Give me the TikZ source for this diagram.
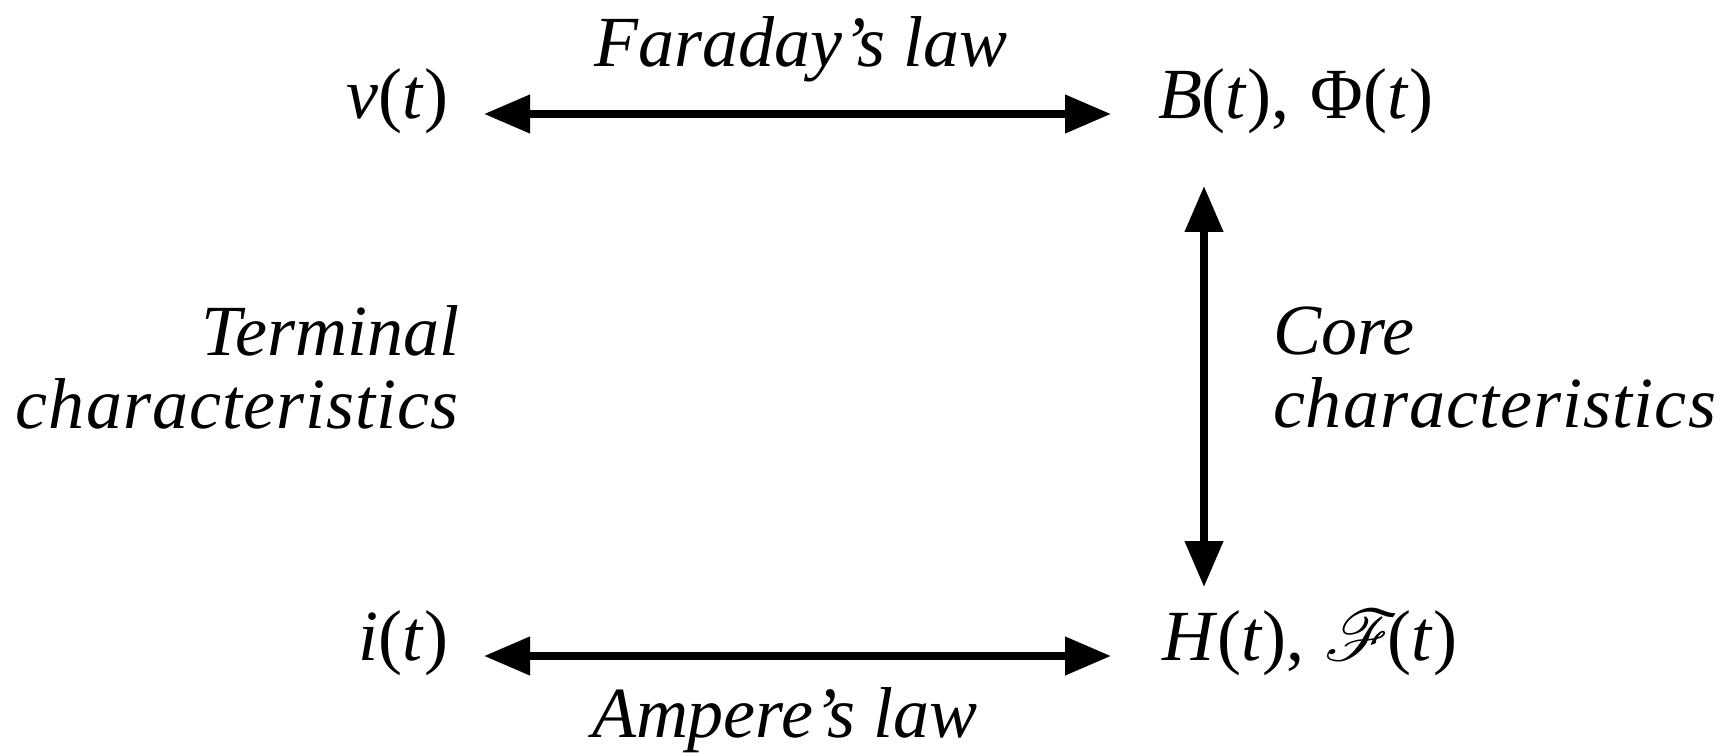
\documentclass[tikz,border=0pt]{standalone}
\usepackage{fontspec}
\setmainfont{Liberation Serif}
\usetikzlibrary{arrows.meta}
\DeclareFontFamily{U}{rsfs}{\skewchar\font127 }
\DeclareFontShape{U}{rsfs}{m}{n}{<-> rsfs10}{}
\newcommand{\scrF}{{\fontencoding{U}\fontfamily{rsfs}\fontseries{m}\fontshape{n}\selectfont F}}
\begin{document}
\begin{tikzpicture}[x=0.5pt,y=-0.5pt,
  lbl/.style={font=\fontsize{36}{36.5}\selectfont\itshape, inner sep=0pt, outer sep=0pt},
  dbl/.style={line width=3.75pt, {Triangle[length=23pt,width=18.5pt]}-{Triangle[length=23pt,width=18.5pt]}}]
\useasboundingbox (0,0) rectangle (1734,753);
\node[lbl, anchor=mid east] (v) at (448,114) {v\textup{(}t\textup{)}};
\node[lbl, anchor=mid west] (B) at (1158,114) {B\textup{(}t\textup{),}\hspace{0.3em}\textup{Φ(}t\textup{)}};
\node[lbl, anchor=mid east] (i) at (448,656) {i\textup{(}t\textup{)}};
\node[lbl, anchor=mid west] (H) at (1162,656) {H\textup{(}t\textup{),}\hspace{0.28em}\scrF\kern-0.02em\textup{(}t\textup{)}};
\node[lbl, anchor=base] (far) at (801,67) {Faraday’s law};
\node[lbl, anchor=base] (amp) at (785,737) {Ampere’s law};
\node[lbl, anchor=base east, align=right] (term) at (459,429) {Terminal\\{\addfontfeature{LetterSpace=1.5}characteristics}};
\node[lbl, anchor=base west, align=left] (core) at (1273,428) {Core\\{\addfontfeature{LetterSpace=1.5}characteristics}};
\coordinate (c1) at (1204,186);
\coordinate (c2) at (1204,587);
\draw[dbl, shorten <=18pt, shorten >=23.5pt] (v.mid east) -- (B.mid west);
\draw[dbl, shorten <=18pt, shorten >=25.5pt] (i.mid east) -- (H.mid west);
\draw[dbl] (c1) -- (c2);
\end{tikzpicture}
\end{document}
